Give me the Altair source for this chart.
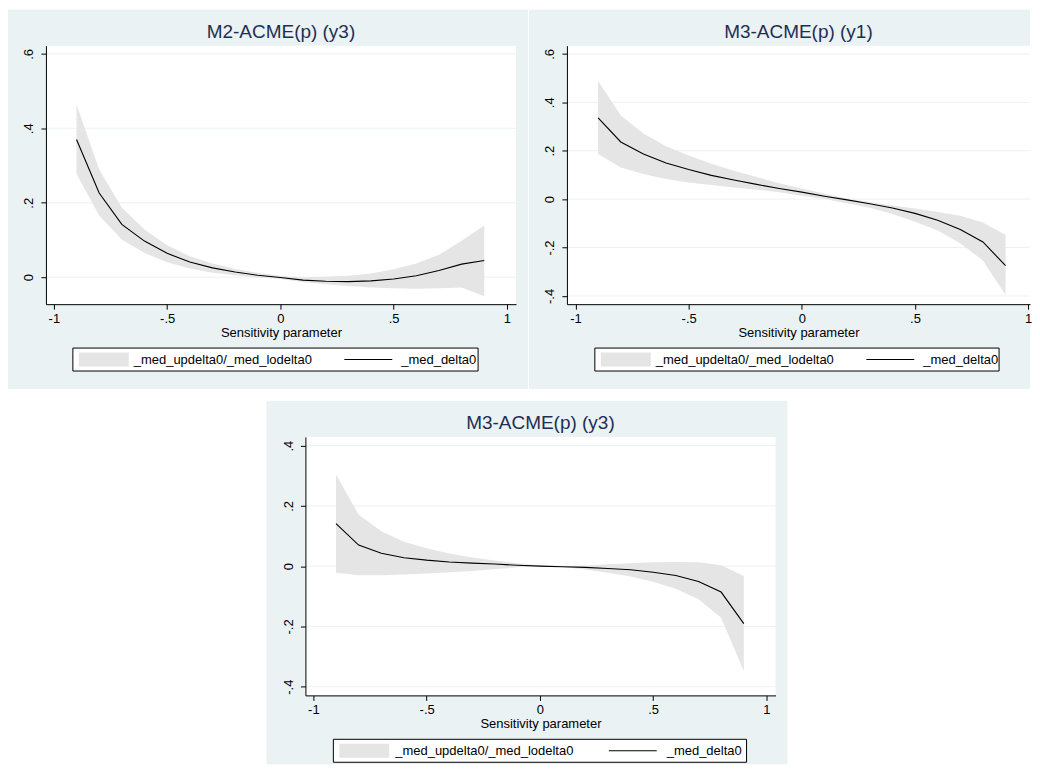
import altair as alt
import pandas as pd

# ---------------- data ----------------
x_values = [-0.9, -0.8, -0.7, -0.6, -0.5, -0.4, -0.3, -0.2, -0.1, 0.0,
            0.1, 0.2, 0.3, 0.4, 0.5, 0.6, 0.7, 0.8, 0.9]

# Panel 1: M2-ACME(p) (y3)
p1_mid = [0.370, 0.226, 0.142, 0.097, 0.064, 0.041, 0.025, 0.014, 0.005, -0.001,
          -0.008, -0.011, -0.012, -0.010, -0.005, 0.004, 0.018, 0.035, 0.045]
p1_up = [0.464, 0.289, 0.187, 0.128, 0.086, 0.056, 0.037, 0.022, 0.012, 0.003,
         -0.001, 0.001, 0.004, 0.010, 0.021, 0.037, 0.060, 0.098, 0.139]
p1_lo = [0.277, 0.166, 0.101, 0.065, 0.040, 0.023, 0.012, 0.005, -0.001, -0.005,
         -0.013, -0.019, -0.024, -0.028, -0.030, -0.031, -0.030, -0.028, -0.051]

# Panel 2: M3-ACME(p) (y1)
p2_mid = [0.336, 0.236, 0.186, 0.149, 0.122, 0.098, 0.079, 0.061, 0.044, 0.029,
          0.012, -0.003, -0.019, -0.037, -0.059, -0.087, -0.126, -0.177, -0.275]
p2_up = [0.488, 0.345, 0.271, 0.218, 0.180, 0.146, 0.117, 0.091, 0.066, 0.044,
         0.022, 0.003, -0.012, -0.026, -0.039, -0.053, -0.069, -0.097, -0.148]
p2_lo = [0.186, 0.131, 0.104, 0.083, 0.069, 0.058, 0.048, 0.039, 0.028, 0.014,
         0.000, -0.017, -0.036, -0.061, -0.093, -0.130, -0.182, -0.254, -0.396]

# Panel 3: M3-ACME(p) (y3)
p3_mid = [0.141, 0.070, 0.043, 0.028, 0.020, 0.014, 0.010, 0.007, 0.003, 0.000,
          -0.002, -0.004, -0.008, -0.012, -0.020, -0.031, -0.051, -0.086, -0.191]
p3_up = [0.304, 0.171, 0.116, 0.081, 0.059, 0.042, 0.029, 0.019, 0.010, 0.003,
         0.000, 0.002, 0.006, 0.010, 0.013, 0.014, 0.013, 0.003, -0.033]
p3_lo = [-0.022, -0.030, -0.030, -0.028, -0.024, -0.020, -0.016, -0.010, -0.004, -0.001,
         -0.003, -0.011, -0.022, -0.034, -0.052, -0.075, -0.110, -0.171, -0.348]

titles = ["M2-ACME(p) (y3)", "M3-ACME(p) (y1)", "M3-ACME(p) (y3)"]
x_title = "Sensitivity parameter"
band_label = "_med_updelta0/_med_lodelta0"
line_label = "_med_delta0"

x_ticks = [-1, -0.5, 0, 0.5, 1]
x_tick_labels = ["-1", "-.5", "0", ".5", "1"]
p1_y_ticks = [0, 0.2, 0.4, 0.6]
p1_y_labels = ["0", ".2", ".4", ".6"]
p2_y_ticks = [-0.4, -0.2, 0, 0.2, 0.4, 0.6]
p2_y_labels = ["-.4", "-.2", "0", ".2", ".4", ".6"]
p3_y_ticks = [-0.4, -0.2, 0, 0.2, 0.4]
p3_y_labels = ["-.4", "-.2", "0", ".2", ".4"]

p1_x_domain = [-1.035, 1.04]
p2_x_domain = [-1.038, 1.008]
p3_x_domain = [-1.035, 1.04]
p1_y_domain = [-0.0725, 0.622]
p2_y_domain = [-0.434, 0.634]
p3_y_domain = [-0.429, 0.429]

# ---------------- style ----------------
FONT = "Liberation Sans"
BG = "#EAF2F3"
GRID = "#EAF2F3"
BAND = "#E5E5E5"
TITLE_COLOR = "#1E2F55"
H = 259
RECT_PATH = "M-1,-0.28H1V0.28H-1Z"


def label_expr(vals, labs):
    parts = [f"datum.value == {v} ? '{l}'" for v, l in zip(vals, labs)]
    return " : ".join(parts) + " : ''"


def panel(title, mid, up, lo, xdom, W, yticks, ylabels, ydom, bg_left, bg_right, bg_bottom,
          box, fill_cx, lab1_x, line_cx, lab2_x):
    df = pd.DataFrame({"x": x_values, "mid": mid, "up": up, "lo": lo,
                       "band": band_label, "line": line_label})
    xs = alt.Scale(domain=xdom, nice=False, zero=False)
    ys = alt.Scale(domain=ydom, nice=False, zero=False)
    xax = alt.Axis(values=x_ticks, labelExpr=label_expr(x_ticks, x_tick_labels),
                   title=x_title, grid=False, domainColor="black", tickColor="black",
                   tickSize=5, labelFontSize=13, titleFontSize=13, labelFont=FONT,
                   titleFont=FONT, labelColor="black", titleColor="black",
                   titleFontWeight="normal", labelPadding=3, titlePadding=1,
                   labelFlush=False, labelOverlap=False, zindex=1)
    yax = alt.Axis(values=yticks, labelExpr=label_expr(yticks, ylabels), title=None,
                   grid=False, domainColor="black", tickColor="black", tickSize=5,
                   labelFontSize=13, labelFont=FONT, labelColor="black", labelAngle=270,
                   labelAlign="center", labelBaseline="alphabetic", labelPadding=8,
                   labelFlush=False, labelOverlap=False, zindex=1)
    one = alt.Data(values=[{"k": 0}])

    layers = []
    layers.append(alt.Chart(one).mark_rect(fill=BG, strokeWidth=0).encode(
        x=alt.value(bg_left), x2=alt.value(W + bg_right),
        y=alt.value(-36), y2=alt.value(H + bg_bottom)))
    layers.append(alt.Chart(one).mark_rect(fill="white", strokeWidth=0).encode(
        x=alt.value(0), x2=alt.value(W), y=alt.value(0), y2=alt.value(H)))
    layers.append(alt.Chart(pd.DataFrame({"g": yticks})).mark_rule(
        color=GRID, strokeWidth=1).encode(
        y=alt.Y("g:Q", scale=ys, axis=yax), x=alt.value(0), x2=alt.value(W)))
    layers.append(alt.Chart(one).mark_rect(fill="white", stroke="black", strokeWidth=1).encode(
        x=alt.value(box[0]), x2=alt.value(box[1]),
        y=alt.value(H + 44), y2=alt.value(H + 67)))
    layers.append(alt.Chart(df).mark_area(opacity=1).encode(
        x=alt.X("x:Q", scale=xs, axis=xax),
        y=alt.Y("up:Q", scale=ys, axis=yax),
        y2="lo:Q",
        fill=alt.Fill("band:N", scale=alt.Scale(domain=[band_label], range=[BAND]),
                      legend=alt.Legend(title=None, orient="none",
                                        legendX=fill_cx - 25, legendY=H + 55.5 - 25,
                                        symbolType=RECT_PATH, symbolSize=2500,
                                        symbolStrokeWidth=0, symbolOpacity=1,
                                        labelFont=FONT, labelFontSize=13,
                                        labelColor="black", labelLimit=500,
                                        labelOffset=lab1_x - (fill_cx - 25) - 50,
                                        padding=0))))
    layers.append(alt.Chart(df).mark_line(strokeWidth=1.1).encode(
        x=alt.X("x:Q", scale=xs, axis=xax),
        y=alt.Y("mid:Q", scale=ys, axis=yax),
        stroke=alt.Stroke("line:N", scale=alt.Scale(domain=[line_label], range=["black"]),
                          legend=alt.Legend(title=None, orient="none",
                                            legendX=line_cx - 25, legendY=H + 55.5 - 25,
                                            symbolType="stroke", symbolSize=2304,
                                            symbolStrokeWidth=1.1,
                                            labelFont=FONT, labelFontSize=13,
                                            labelColor="black", labelLimit=500,
                                            labelOffset=lab2_x - (line_cx - 25) - 50,
                                            padding=0))))
    return alt.layer(*layers).properties(
        width=W, height=H,
        title=alt.TitleParams(text=title, font=FONT, fontSize=19, fontWeight="normal",
                              color=TITLE_COLOR, anchor="middle", frame="group",
                              offset=-32))


c1 = panel(titles[0], p1_mid, p1_up, p1_lo, p1_x_domain, 471, p1_y_ticks, p1_y_labels,
           p1_y_domain, -38, 12, 85, (27, 433), 58, 88, 323, 356)
c2 = panel(titles[1], p2_mid, p2_up, p2_lo, p2_x_domain, 464, p2_y_ticks, p2_y_labels,
           p2_y_domain, -38, 0, 85, (28, 433), 59, 89, 324, 357)
c3 = panel(titles[2], p3_mid, p3_up, p3_lo, p3_x_domain, 471, p3_y_ticks, p3_y_labels,
           p3_y_domain, -39, 12, 69, (28, 442), 59, 90, 328, 362)

# empty white spacer that pushes the bottom panel to the middle of the page
SPACER_W = 221
spacer = alt.Chart(alt.Data(values=[{"k": 0}])).mark_rect(fill="white", strokeWidth=0).encode(
    x=alt.value(0), x2=alt.value(SPACER_W), y=alt.value(0), y2=alt.value(1)
).properties(width=SPACER_W, height=1)

top = alt.hconcat(c1, c2, spacing=1).resolve_scale(
    fill="independent", stroke="independent").resolve_legend(
    fill="independent", stroke="independent")
bottom = alt.hconcat(spacer, c3, spacing=0).resolve_scale(
    fill="independent", stroke="independent").resolve_legend(
    fill="independent", stroke="independent")
chart = alt.vconcat(top, bottom, spacing=12).resolve_scale(
    fill="independent", stroke="independent").resolve_legend(
    fill="independent", stroke="independent").properties(
    padding={"left": 0, "top": 1, "right": 0, "bottom": 0}
).configure(font=FONT, background="white").configure_view(stroke=None, strokeWidth=0)

chart.save("out.html", embed_options={"renderer": "svg", "actions": False})
